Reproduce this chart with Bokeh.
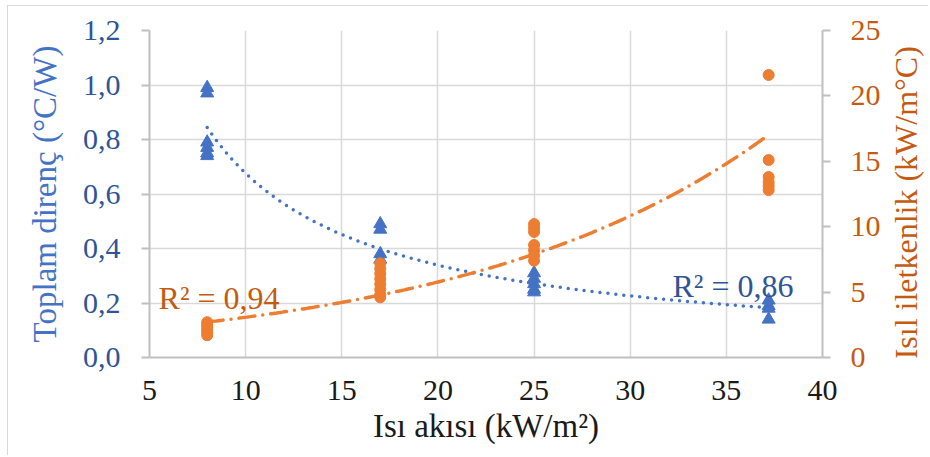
import numpy as np
from bokeh.plotting import figure
from bokeh.layouts import row
from bokeh.models import Range1d, LinearAxis, FixedTicker, CustomJSTickFormatter, Label
from bokeh.embed import file_html
from bokeh.resources import INLINE

# ---- data ----
res_x = [8, 8, 8, 8, 8, 8, 17, 17, 17, 17, 25, 25, 25, 25, 25, 37.2, 37.2, 37.2, 37.2]
res_y = [0.99, 0.97, 0.79, 0.77, 0.75, 0.74, 0.49, 0.47, 0.38, 0.36,
         0.31, 0.29, 0.27, 0.25, 0.24, 0.21, 0.19, 0.18, 0.14]

cond_x = [8, 8, 8, 8, 8, 8, 17, 17, 17, 17, 17, 17, 17, 17,
          25, 25, 25, 25, 25, 25, 25, 37.2, 37.2, 37.2, 37.2, 37.2, 37.2]
cond_y = [2.7, 2.5, 2.3, 2.1, 1.9, 1.7, 7.2, 6.8, 6.4, 6.0, 5.6, 5.2, 4.8, 4.6,
          10.2, 9.9, 9.6, 8.6, 8.2, 7.8, 7.4, 21.6, 15.1, 13.8, 13.4, 13.1, 12.8]

x_ticks = [5, 10, 15, 20, 25, 30, 35, 40]
left_ticks = [0, 0.2, 0.4, 0.6, 0.8, 1.0, 1.2]
right_ticks = [0, 5, 10, 15, 20, 25]

r2_cond_text = "R² = 0,94"
r2_res_text = "R² = 0,86"

x_title = "Isı akısı (kW/m²)"
left_title = "Toplam direnç (°C/W)"
right_title = "Isıl iletkenlik  (kW/m°C)"

# ---- trendlines fitted from the data (Excel-style power / exponential) ----
rx = np.array(res_x, float); ry = np.array(res_y, float)
b_res, lna_res = np.polyfit(np.log(rx), np.log(ry), 1)
cx = np.array(cond_x, float); cy = np.array(cond_y, float)
b_cond, lna_cond = np.polyfit(cx, np.log(cy), 1)
tx = np.linspace(min(res_x), max(res_x), 300)
res_fit = np.exp(lna_res) * tx ** b_res
tcx = np.linspace(min(cond_x), max(cond_x), 300)
cond_fit = np.exp(lna_cond) * np.exp(b_cond * tcx)

FONT = "Liberation Serif"
BLUE = "#4472C4"
BLUE_T = "#2F5597"
ORANGE = "#ED7D31"
ORANGE_T = "#C55A11"
AXIS = "#BFBFBF"
GRID = "#D9D9D9"
TICK_FS = "30px"
TITLE_FS = "33px"

H = 449
p = figure(width=877, height=H, output_backend="svg", toolbar_location=None,
           x_range=Range1d(5, 40), y_range=Range1d(0, 1.2),
           min_border_left=141, min_border_right=63, min_border_top=24, min_border_bottom=98)
p.extra_y_ranges = {"right": Range1d(0, 25)}
p.outline_line_color = None
p.background_fill_color = "white"
p.border_fill_color = "white"

# x axis
xa = p.xaxis[0]
xa.ticker = FixedTicker(ticks=x_ticks)
xa.axis_label = x_title
xa.axis_label_text_font = FONT
xa.axis_label_text_font_size = TITLE_FS
xa.axis_label_text_font_style = "normal"
xa.axis_label_text_color = "#1a1a1a"
xa.axis_label_standoff = 5
xa.major_label_text_font = FONT
xa.major_label_text_font_size = TICK_FS
xa.major_label_text_color = "#1a1a1a"
xa.major_label_standoff = 23
xa.axis_line_color = AXIS
xa.axis_line_width = 2
xa.major_tick_out = 0
xa.major_tick_in = 0
xa.minor_tick_out = 0
xa.minor_tick_in = 0

# left axis
ya = p.yaxis[0]
ya.ticker = FixedTicker(ticks=left_ticks)
ya.formatter = CustomJSTickFormatter(code="return tick.toFixed(1).replace('.', ',');")
ya.axis_label = left_title
ya.axis_label_text_font = FONT
ya.axis_label_text_font_size = TITLE_FS
ya.axis_label_text_font_style = "normal"
ya.axis_label_text_color = BLUE
ya.axis_label_standoff = 17
ya.major_label_text_font = FONT
ya.major_label_text_font_size = TICK_FS
ya.major_label_text_color = BLUE_T
ya.major_label_standoff = 21
ya.axis_line_color = AXIS
ya.axis_line_width = 2
ya.major_tick_out = 8
ya.major_tick_in = 0
ya.major_tick_line_color = AXIS
ya.major_tick_line_width = 2
ya.minor_tick_out = 0
ya.minor_tick_in = 0

# right axis
ra = LinearAxis(y_range_name="right", ticker=FixedTicker(ticks=right_ticks))
ra.major_label_text_font = FONT
ra.major_label_text_font_size = TICK_FS
ra.major_label_text_color = ORANGE_T
ra.major_label_standoff = 20
ra.axis_line_color = AXIS
ra.axis_line_width = 2
ra.major_tick_out = 8
ra.major_tick_in = 0
ra.major_tick_line_color = AXIS
ra.major_tick_line_width = 2
ra.minor_tick_out = 0
ra.minor_tick_in = 0
p.add_layout(ra, "right")

# grids
p.xgrid.ticker = FixedTicker(ticks=x_ticks)
p.ygrid.ticker = FixedTicker(ticks=left_ticks)
p.xgrid.grid_line_color = GRID
p.ygrid.grid_line_color = GRID
p.xgrid.grid_line_width = 1.5
p.ygrid.grid_line_width = 1.5

# series
p.scatter(res_x, res_y, marker="triangle", size=13, fill_color=BLUE, line_color=BLUE)
p.scatter(cond_x, cond_y, marker="circle", size=11, fill_color=ORANGE, line_color=ORANGE,
          y_range_name="right")

# trendlines
p.line(tx, res_fit, line_color=BLUE, line_width=3.5, line_dash="0 8", line_cap="round")
p.line(tcx, cond_fit, line_color=ORANGE, line_width=3.5, line_dash="16 8 0 8", line_cap="round",
       y_range_name="right")

# R² labels
p.add_layout(Label(x=5.47, y=0.22, text=r2_cond_text, text_font=FONT, text_font_size="32px",
                   text_color=ORANGE_T, text_baseline="alphabetic", text_align="left"))
p.add_layout(Label(x=32.2, y=0.264, text=r2_res_text, text_font=FONT, text_font_size="32px",
                   text_color=BLUE_T, text_baseline="alphabetic", text_align="left"))

# right axis title (reads bottom-to-top) in a narrow side figure
W2 = 43
p2 = figure(width=W2, height=H, output_backend="svg", toolbar_location=None,
            x_range=Range1d(0, W2), y_range=Range1d(0, H),
            min_border=0, min_border_left=0, min_border_right=0,
            min_border_top=0, min_border_bottom=0)
p2.axis.visible = False
p2.grid.visible = False
p2.outline_line_color = None
p2.background_fill_color = "white"
p2.border_fill_color = "white"
p2.add_layout(Label(x=20, y=218, angle=np.pi / 2, text=right_title, text_font=FONT,
                    text_font_size="32px", text_color=ORANGE_T,
                    text_align="center", text_baseline="middle"))

layout = row(p, p2, styles={"margin-left": "7px", "margin-top": "5px",
                            "border-left": "1px solid #D9D9D9",
                            "border-top": "1px solid #D9D9D9"})

open("out.html", "w").write(file_html(layout, INLINE))
